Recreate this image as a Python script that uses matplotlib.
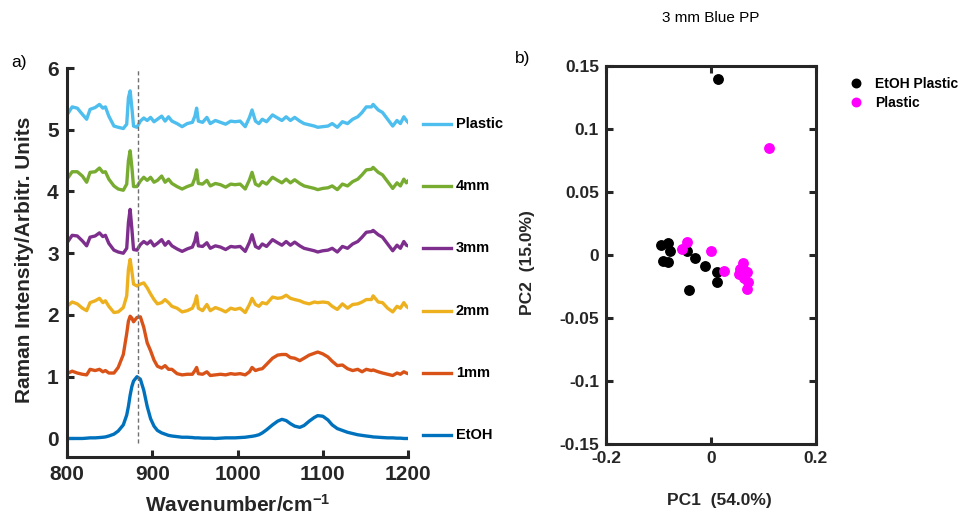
import matplotlib.pyplot as plt

plt.rcParams['font.family'] = ['Liberation Sans', 'DejaVu Sans']
plt.rcParams['mathtext.default'] = 'regular'

# Raman spectra, 800-1200 cm^-1, stacked with an offset of ~1 per sample
wavenumber = [800, 806, 812, 818, 823, 827, 833, 838, 842, 845, 849, 855, 860, 866, 870,
              872, 874, 876, 878, 882, 886, 890, 894, 898, 902, 906, 911, 915, 919, 923,
              929, 935, 941, 947, 950, 952, 954, 959, 964, 968, 974, 980, 986, 992, 997,
              1003, 1009, 1014, 1017, 1021, 1025, 1029, 1034, 1041, 1047, 1052, 1057, 1062,
              1067, 1073, 1078, 1084, 1090, 1094, 1100, 1106, 1111, 1117, 1123, 1129, 1135,
              1141, 1146, 1151, 1157, 1159, 1165, 1170, 1176, 1182, 1187, 1191, 1195, 1198, 1200]

etoh = [0.00, 0.00, 0.00, 0.00, 0.005, 0.01, 0.01, 0.015, 0.02, 0.025, 0.04, 0.07, 0.12, 0.22, 0.38,
        0.52, 0.70, 0.84, 0.93, 1.00, 0.96, 0.78, 0.52, 0.32, 0.20, 0.13, 0.09, 0.07, 0.05, 0.04,
        0.03, 0.02, 0.02, 0.015, 0.01, 0.01, 0.01, 0.005, 0.005, 0.005, 0.00, 0.005, 0.01, 0.01, 0.01,
        0.015, 0.02, 0.03, 0.035, 0.045, 0.06, 0.09, 0.14, 0.22, 0.28, 0.31, 0.29, 0.24,
        0.20, 0.18, 0.21, 0.28, 0.34, 0.37, 0.36, 0.30, 0.22, 0.16, 0.13, 0.10, 0.08,
        0.06, 0.05, 0.04, 0.03, 0.025, 0.02, 0.015, 0.01, 0.01, 0.005, 0.005, 0.0, 0.0, 0.0]

mm1 = [1.05, 1.09, 1.06, 1.04, 1.03, 1.12, 1.10, 1.12, 1.08, 1.10, 1.06, 1.06, 1.15, 1.36, 1.70,
       1.90, 1.98, 1.95, 1.89, 1.96, 1.97, 1.80, 1.55, 1.42, 1.27, 1.17, 1.14, 1.18, 1.12, 1.12,
       1.05, 1.03, 1.04, 1.04, 1.10, 1.15, 1.05, 1.04, 1.08, 1.02, 1.03, 1.04, 1.03, 1.05, 1.04,
       1.05, 1.03, 1.08, 1.15, 1.10, 1.12, 1.13, 1.20, 1.30, 1.35, 1.36, 1.36, 1.31,
       1.30, 1.26, 1.30, 1.35, 1.38, 1.40, 1.37, 1.32, 1.25, 1.18, 1.19, 1.13, 1.10,
       1.12, 1.08, 1.12, 1.10, 1.11, 1.08, 1.06, 1.04, 1.02, 1.06, 1.04, 1.08, 1.06, 1.05]

mm2 = [2.14, 2.21, 2.18, 2.11, 2.07, 2.20, 2.23, 2.27, 2.20, 2.23, 2.14, 2.04, 2.05, 2.12, 2.31,
       2.74, 2.90, 2.71, 2.50, 2.47, 2.50, 2.52, 2.44, 2.34, 2.25, 2.18, 2.20, 2.25, 2.20, 2.14,
       2.11, 2.05, 2.07, 2.11, 2.20, 2.31, 2.11, 2.07, 2.17, 2.07, 2.12, 2.09, 2.05, 2.11, 2.09,
       2.11, 2.04, 2.17, 2.27, 2.17, 2.14, 2.20, 2.18, 2.29, 2.27, 2.28, 2.32, 2.27,
       2.25, 2.23, 2.20, 2.18, 2.21, 2.20, 2.21, 2.20, 2.14, 2.09, 2.18, 2.11, 2.17,
       2.18, 2.21, 2.25, 2.25, 2.31, 2.21, 2.20, 2.11, 2.05, 2.14, 2.11, 2.20, 2.14, 2.12]

mm3 = [3.17, 3.29, 3.28, 3.20, 3.12, 3.26, 3.28, 3.33, 3.27, 3.29, 3.16, 3.05, 3.02, 3.00, 3.08,
       3.50, 3.71, 3.40, 3.06, 3.05, 3.14, 3.19, 3.15, 3.20, 3.12, 3.16, 3.22, 3.13, 3.19, 3.12,
       3.07, 3.03, 3.07, 3.10, 3.20, 3.33, 3.12, 3.11, 3.17, 3.08, 3.12, 3.10, 3.06, 3.11, 3.10,
       3.11, 3.03, 3.18, 3.30, 3.11, 3.08, 3.15, 3.11, 3.22, 3.17, 3.13, 3.19, 3.13,
       3.18, 3.12, 3.08, 3.06, 3.04, 3.02, 3.04, 3.05, 3.08, 3.02, 3.11, 3.08, 3.15,
       3.19, 3.26, 3.34, 3.35, 3.37, 3.30, 3.26, 3.15, 3.04, 3.13, 3.08, 3.19, 3.13, 3.12]

mm4 = [4.20, 4.32, 4.32, 4.25, 4.15, 4.31, 4.32, 4.38, 4.31, 4.32, 4.20, 4.09, 4.04, 4.02, 4.12,
       4.50, 4.66, 4.40, 4.08, 4.08, 4.17, 4.23, 4.18, 4.23, 4.15, 4.18, 4.25, 4.15, 4.20, 4.13,
       4.08, 4.04, 4.08, 4.11, 4.22, 4.35, 4.13, 4.12, 4.18, 4.09, 4.13, 4.11, 4.07, 4.12, 4.11,
       4.12, 4.04, 4.19, 4.31, 4.12, 4.09, 4.16, 4.12, 4.23, 4.18, 4.14, 4.20, 4.14,
       4.19, 4.13, 4.09, 4.07, 4.05, 4.03, 4.05, 4.06, 4.09, 4.03, 4.12, 4.09, 4.16,
       4.20, 4.27, 4.35, 4.36, 4.39, 4.31, 4.27, 4.16, 4.05, 4.14, 4.09, 4.20, 4.14, 4.17]

plastic = [5.24, 5.37, 5.35, 5.25, 5.17, 5.33, 5.36, 5.41, 5.35, 5.37, 5.22, 5.06, 5.04, 5.02, 5.09,
           5.52, 5.63, 5.36, 5.06, 5.04, 5.14, 5.19, 5.15, 5.20, 5.13, 5.17, 5.22, 5.14, 5.21, 5.14,
           5.10, 5.05, 5.10, 5.12, 5.22, 5.35, 5.14, 5.12, 5.20, 5.10, 5.15, 5.12, 5.09, 5.14, 5.13,
           5.14, 5.05, 5.20, 5.32, 5.14, 5.10, 5.17, 5.13, 5.24, 5.19, 5.15, 5.21, 5.15,
           5.20, 5.14, 5.10, 5.08, 5.06, 5.04, 5.05, 5.06, 5.10, 5.04, 5.13, 5.10, 5.17,
           5.21, 5.28, 5.37, 5.37, 5.41, 5.32, 5.28, 5.17, 5.06, 5.15, 5.10, 5.21, 5.15, 5.12]

spectra = [etoh, mm1, mm2, mm3, mm4, plastic]
spectrum_labels = ['EtOH', '1mm', '2mm', '3mm', '4mm', 'Plastic']
spectrum_colors = ['#0072BD', '#D95319', '#EDB120', '#7E2F8E', '#77AC30', '#4DBEEE']
ethanol_band = 883

# PCA scores
etoh_plastic_pc1 = [-0.096, -0.081, -0.079, -0.092, -0.081, -0.045, -0.030, -0.012, 0.012, 0.012, -0.042, 0.013]
etoh_plastic_pc2 = [0.0079, 0.0098, 0.0034, -0.0045, -0.0053, 0.0034, -0.0026, -0.0085, -0.0138, -0.0212, -0.0278, 0.1397]
plastic_pc1 = [-0.045, -0.055, 0.001, 0.024, 0.061, 0.055, 0.069, 0.053, 0.062, 0.070, 0.068, 0.064, 0.110]
plastic_pc2 = [0.0101, 0.0048, 0.0034, -0.0125, -0.0066, -0.0114, -0.0132, -0.0153, -0.0185, -0.0211, -0.0272, -0.013, 0.0847]

dark = '#262626'

fig = plt.figure(figsize=(9.73, 5.14), dpi=100)

# --- a) stacked spectra ---
ax1 = fig.add_axes([0.0689, 0.1109, 0.3505, 0.7568])
for y, lab, c in zip(spectra, spectrum_labels, spectrum_colors):
    ax1.plot(wavenumber, y, color=c, lw=2.4, label=lab)
ax1.vlines(ethanol_band, -0.07, 6, colors='#707070', linestyles=(0, (3, 2)), lw=1)

ax1.set_xlim(800, 1200)
ax1.set_ylim(-0.3, 6)
ax1.set_xticks([800, 900, 1000, 1100, 1200])
ax1.set_yticks(range(7))
for s in ['top', 'right']:
    ax1.spines[s].set_visible(False)
for s in ['left', 'bottom']:
    ax1.spines[s].set_linewidth(2.2)
    ax1.spines[s].set_color(dark)
ax1.tick_params(direction='in', length=5, width=2.2, color=dark, labelcolor=dark,
                labelsize=15, pad=6)
for t in ax1.get_xticklabels() + ax1.get_yticklabels():
    t.set_fontweight('bold')
ax1.set_ylabel('Raman Intensity/Arbitr. Units', fontsize=15, fontweight='bold', color=dark)
ax1.yaxis.set_label_coords(-0.098, 0.506)
ax1.set_xlabel('Wavenumber/cm$^{-1}$', fontsize=15, fontweight='bold', color=dark)
ax1.xaxis.set_label_coords(0.5, -0.095)

# line labels to the right of the spectra
for i, (lab, c) in enumerate(zip(spectrum_labels, spectrum_colors)):
    yk = 0.05 + i * 1.01
    ax1.plot([1217, 1250], [yk, yk], color=c, lw=2.4, clip_on=False)
    ax1.text(1256, yk, lab, fontsize=10.5, fontweight='bold', va='center', ha='left',
             clip_on=False)

fig.text(0.012, 0.878, 'a)', fontsize=12.5, va='center')

# --- b) PCA scores ---
ax2 = fig.add_axes([0.6228, 0.1362, 0.2158, 0.7354])
ax2.plot(etoh_plastic_pc1, etoh_plastic_pc2, 'o', color='black', ms=6.8,
         label='EtOH Plastic')
ax2.plot(plastic_pc1, plastic_pc2, 'o', color='#FF00FF', ms=6.8, label='Plastic')
ax2.set_xlim(-0.2, 0.2)
ax2.set_ylim(-0.15, 0.15)
ax2.set_xticks([-0.2, 0, 0.2])
ax2.set_xticklabels(['-0.2', '0', '0.2'])
ax2.set_yticks([-0.15, -0.1, -0.05, 0, 0.05, 0.1, 0.15])
ax2.set_yticklabels(['-0.15', '-0.1', '-0.05', '0', '0.05', '0.1', '0.15'])
for s in ax2.spines.values():
    s.set_linewidth(2.2)
    s.set_color(dark)
ax2.tick_params(direction='in', length=5, width=2.2, color=dark, labelcolor=dark,
                labelsize=12.5, top=True, right=True, pad=5)
for t in ax2.get_xticklabels() + ax2.get_yticklabels():
    t.set_fontweight('bold')
ax2.set_xlabel('PC1  (54.0%)', fontsize=12.5, fontweight='bold', color=dark)
ax2.xaxis.set_label_coords(0.54, -0.13)
ax2.set_ylabel('PC2  (15.0%)', fontsize=12.5, fontweight='bold', color=dark)
ax2.yaxis.set_label_coords(-0.338, 0.48)
ax2.set_title('3 mm Blue PP', fontsize=11, pad=32)

ax2.legend(loc='upper left', bbox_to_anchor=(1.13, 0.99), frameon=False,
           prop={'weight': 'bold', 'size': 10}, handlelength=0.8,
           handletextpad=1.0, labelspacing=0.4, borderpad=0, markerscale=0.9)

fig.text(0.529, 0.887, 'b)', fontsize=12.5, va='center')

fig.savefig('out.png', dpi=100)
